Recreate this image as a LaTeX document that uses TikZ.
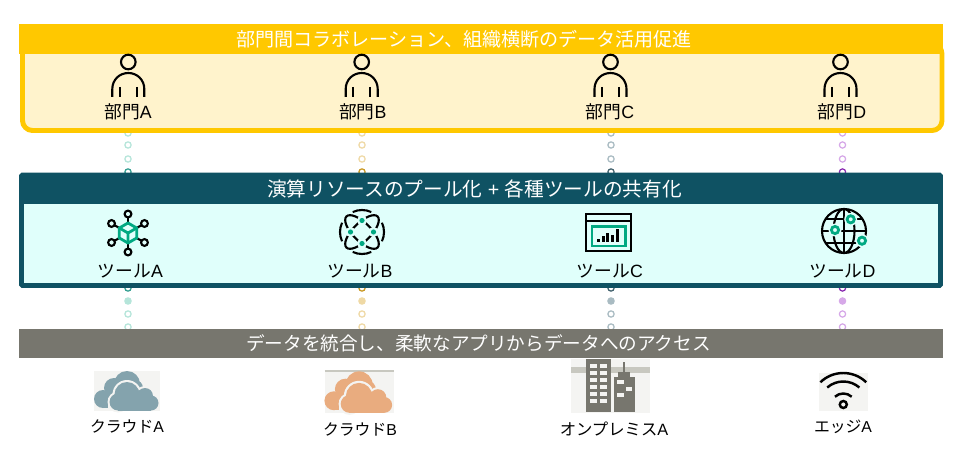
\documentclass[tikz,border=0pt]{standalone}
\usepackage{fontspec}
\setmainfont{Liberation Sans}
\newfontfamily\jpfont{Noto Sans CJK JP}
\newcommand{\jp}[1]{{\jpfont #1}}

\definecolor{bandgold}{HTML}{FFC800}
\definecolor{panelgold}{HTML}{FFF3CC}
\definecolor{bandteal}{HTML}{0F5263}
\definecolor{panelteal}{HTML}{E0FFFB}
\definecolor{bandgrey}{HTML}{77766E}
\definecolor{hpegreen}{HTML}{01A982}
\definecolor{iconbg}{HTML}{F4F4F2}
\definecolor{roadgrey}{HTML}{C8C8C0}
\definecolor{cloudblue}{HTML}{84A3AD}
\definecolor{cloudorange}{HTML}{E9AC7F}
\definecolor{dotAl}{HTML}{B5E5DA}
\definecolor{dotAd}{HTML}{2E9C8E}
\definecolor{dotBl}{HTML}{EFD9A5}
\definecolor{dotBd}{HTML}{C8961E}
\definecolor{dotCl}{HTML}{A9BBC2}
\definecolor{dotCd}{HTML}{3F5F6B}
\definecolor{dotDl}{HTML}{D6A8E8}
\definecolor{dotDd}{HTML}{8A2BB0}

\tikzset{
  band/.style={minimum height=0.6cm, inner sep=0pt, text=white},
  lab/.style={inner sep=0pt, font=\fontsize{10.1pt}{11pt}\selectfont},
  smalllab/.style={inner sep=0pt, font=\fontsize{9pt}{10pt}\selectfont},
  dotring/.style={circle, draw, fill=white, line width=0.7pt, minimum size=0.125cm, inner sep=0pt},
  iconline/.style={line width=1.2pt},
  greenline/.style={line width=1.6pt, draw=hpegreen},
  person/.pic={
    \draw[iconline] (0,0) circle (7.3);
    \draw[iconline] (-16,35) -- (-16,27) .. controls (-16,18) and (-9,11) .. (0,11) .. controls (9,11) and (16,18) .. (16,27) -- (16,35);
    \draw[iconline] (-8.5,25) -- (-8.5,35);
    \draw[iconline] (8.5,25) -- (8.5,35);
  },
  cloud/.pic={
    % rear cloud
    \fill[pic actions] (-23,15) circle (9);
    \fill[pic actions] (-12,4) circle (10);
    \fill[pic actions] (1,0) circle (13);
    \fill[pic actions] (9,4) circle (8);
    \fill[pic actions] (-23,8) rectangle (10,24);
    % front cloud, with its pale rim
    \fill[iconbg] (1,10.5) circle (14.5);
    \fill[iconbg] (19,12) circle (10);
    \fill[iconbg] (-8,18) circle (10.5);
    \fill[iconbg] (-18.5,14) rectangle (26,27);
    \fill[pic actions] (1,10.5) circle (12.5);
    \fill[pic actions] (19,12) circle (8);
    \fill[pic actions] (11,14) circle (8);
    \fill[pic actions] (-8,18) circle (8.5);
    \fill[pic actions] (25,19) circle (7.5);
    \fill[pic actions] (-8,14) rectangle (25,26.5);
  },
  greenspot/.pic={
    \fill[panelteal] (0,0) circle (5);
    \fill[hpegreen] (0,0) circle (2.6);
  },
  greenring/.pic={
    \fill[panelteal] (0,0) circle (6.5);
    \draw[greenline] (0,0) circle (3.6);
  },
}

% one column of dots, from the top band down to the bottom band
\newcommand{\dotcolumn}[4]{
  \foreach \y in {133,145,159,314,327}
    \node[dotring, draw=#3] (dot#2\y) at (#1,\y) {};
  \foreach \y in {172,288}
    \node[dotring, draw=#4] (dot#2\y) at (#1,\y) {};
  \node[dotring, draw=#3, fill=#3] (dot#2301) at (#1,301) {};
}

\begin{document}
\begin{tikzpicture}[x=0.02cm, y=-0.02cm]

\useasboundingbox (0,0) rectangle (963,459);

\dotcolumn{128}{A}{dotAl}{dotAd}
\dotcolumn{362}{B}{dotBl}{dotBd}
\dotcolumn{611}{C}{dotCl}{dotCd}
\dotcolumn{842.5}{D}{dotDl}{dotDd}

% top
\draw[line width=2.8pt, draw=bandgold, fill=panelgold, rounded corners=0.2cm] (22.5,44) rectangle (942,130.5);
\node[band, fill=bandgold, minimum width=18.48cm] (bandTop) at (481,39) {};
\node[text=white, inner sep=0pt, font=\fontsize{10.85pt}{12pt}\selectfont] (titleTop) at (464,39) {\jp{部門間コラボレーション、組織横断のデータ活用促進}};

\pic at (128.3,62) {person};
\pic at (361.7,62) {person};
\pic at (610.5,62) {person};
\pic at (840.5,62) {person};

\node[lab] (deptA) at (128,112) {\jp{部門}A};
\node[lab] (deptB) at (362.7,112) {\jp{部門}B};
\node[lab] (deptC) at (610,112) {\jp{部門}C};
\node[lab] (deptD) at (842,112) {\jp{部門}D};

% middle
\draw[line width=2.8pt, draw=bandteal, fill=panelteal, rounded corners=0.02cm] (21.5,175) rectangle (940.5,285.5);
\node[band, fill=bandteal, minimum width=18.38cm] (bandMid) at (481,189) {};
\node[text=white, inner sep=0pt, font=\fontsize{11.2pt}{12pt}\selectfont] (titleMid) at (474.5,189) {\jp{演算リソースのプール化} + \jp{各種ツールの共有化}};

% tool A
\foreach \a in {30,90,150,210,270,330} {
  \draw[iconline] (128+9*cos \a,233-9*sin \a) -- (128+15*cos \a,233-15*sin \a);
  \draw[iconline, fill=panelteal] (128+19*cos \a,233-19*sin \a) circle (3.4);
}
\draw[greenline, fill=panelteal] (128,223) -- (136.7,228) -- (136.7,238) -- (128,243) -- (119.3,238) -- (119.3,228) -- cycle;
\draw[greenline] (119.3,228) -- (128,233) -- (136.7,228) (128,233) -- (128,243);

% tool B
\foreach \a in {-25,65,155,245}
  \draw[iconline] (362,232) ++(\a:22) arc (\a:\a+50:22);
\draw[iconline, rotate around={45:(362,232)}] (362,232) ellipse (22 and 9);
\draw[iconline, rotate around={-45:(362,232)}] (362,232) ellipse (22 and 9);
\pic at (362,220.5) {greenspot};
\pic at (350.5,232) {greenspot};
\pic at (373.5,232) {greenspot};
\pic at (362,243.5) {greenspot};

% tool C
\draw[iconline] (586,214) rectangle (630.7,251);
\draw[iconline] (586,220.7) -- (630.7,220.7);
\draw[greenline] (592,226.5) rectangle (625.5,246);
\foreach \x/\h in {597/3,601.5/6,606/9,610.5/7,615.5/13}
  \fill (\x,241.7) rectangle (\x+3.3,241.7-\h);

% tool D
\draw[iconline] (844,231) circle (22);
\draw[iconline] (844,231) ellipse (10.5 and 22);
\draw[iconline] (844,209) -- (844,253);
\draw[iconline] (826,219) -- (862,219);
\draw[iconline] (822,231) -- (866,231);
\draw[iconline] (826,243) -- (862,243);
\pic at (850.7,219.3) {greenring};
\pic at (835,230) {greenring};
\pic at (862,240.7) {greenring};

\node[lab] (toolA) at (130.5,271) {\jp{ツール}A};
\node[lab] (toolB) at (360,271) {\jp{ツール}B};
\node[lab] (toolC) at (610,271) {\jp{ツール}C};
\node[lab] (toolD) at (842.5,271) {\jp{ツール}D};

% bottom
\node[band, fill=bandgrey, minimum width=18.48cm] (bandLow) at (481,343.5) {};
\node[text=white, inner sep=0pt, font=\fontsize{10.6pt}{12pt}\selectfont] (titleLow) at (478.5,343.5) {\jp{データを統合し、柔軟なアプリからデータへのアクセス}};

\fill[iconbg] (94,370.7) rectangle (160,410.7);
\pic[fill=cloudblue] at (126,384) {cloud};

\fill[iconbg] (324.7,371) rectangle (394,412.7);
\draw[roadgrey, line width=0.6pt] (324.7,371) -- (394,371);
\pic[fill=cloudorange, scale=1.05] at (358,385) {cloud};

% building
\fill[iconbg] (571,359) rectangle (650,412.7);
\fill[roadgrey] (571,367) rectangle (650,372.7);
\fill[bandgrey] (586,359) rectangle (611,412);
\fill[bandgrey] (614,376.7) rectangle (635,412);
\fill[bandgrey] (618,371.7) rectangle (630,377);
\fill[bandgrey] (622.8,361.7) rectangle (625.2,372);
\foreach \y in {364,371,378,385,392,399} {
  \fill[iconbg] (590,\y) rectangle (596.7,\y+3.8);
  \fill[iconbg] (600,\y) rectangle (606.7,\y+3.8);
}
\fill[iconbg] (617,380) rectangle (624,384);
\fill[iconbg] (625.7,386.7) rectangle (631.7,390.7);
\fill[iconbg] (617,393) rectangle (624,397);

% wifi
\fill[iconbg] (819,372.7) rectangle (867.7,411);
\draw[line width=1.4pt] (843.3,404.5) circle (3.5);
\draw[line width=1.4pt] (843.3,406) ++(226:33) arc (226:314:33);
\draw[line width=1.4pt] (843.3,406) ++(229:24.5) arc (229:311:24.5);
\draw[line width=1.4pt] (843.3,406) ++(228:12.5) arc (228:312:12.5);

\node[smalllab] (siteA) at (127,426) {\jp{クラウド}A};
\node[smalllab] (siteB) at (360,429) {\jp{クラウド}B};
\node[smalllab, font=\fontsize{9.3pt}{10pt}\selectfont] (siteC) at (614,429) {\jp{オンプレミス}A};
\node[smalllab] (siteD) at (843,427) {\jp{エッジ}A};

\end{tikzpicture}
\end{document}
